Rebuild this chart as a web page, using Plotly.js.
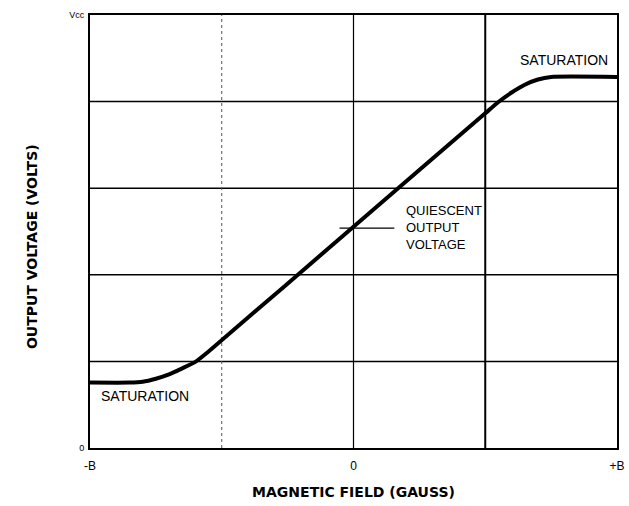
<!DOCTYPE html>
<html><head><meta charset="utf-8">
<script src="https://cdn.plot.ly/plotly-3.0.1.min.js"></script>
<style>html,body{margin:0;padding:0;background:#fff;}#chart{width:629px;height:506px;}</style>
</head><body><div id="chart"></div>
<script>
// Data (normalised: x in units of B, y in units of Vcc)
const fieldX = [-1.0, -0.85, -0.80, -0.75, -0.70, -0.65, -0.60, -0.55, 0.0, 0.50, 0.55, 0.60, 0.65, 0.70, 0.75, 1.0];
const outputY = [0.151, 0.151, 0.153, 0.160, 0.170, 0.184, 0.199, 0.223, 0.511, 0.773, 0.799, 0.821, 0.839, 0.851, 0.857, 0.857];
const xTickVals = [-1, 0, 1];
const xTickText = ['-B', '0', '+B'];
const yTickVals = [0, 1];
const yTickText = ['0', 'Vcc'];
const hGrid = [0.2, 0.4, 0.6, 0.8];
const vGridDotted = [-0.5];
const vGridSolid = [0, 0.5];
const quiescentY = 0.508;
const quiescentX = [-0.053, 0.155];

const shapes = [];
hGrid.forEach(v => shapes.push({type:'line', xref:'paper', x0:0, x1:1, yref:'y', y0:v, y1:v, line:{color:'#000', width:1.5}, layer:'below'}));
vGridDotted.forEach(v => shapes.push({type:'line', yref:'paper', y0:0, y1:1, xref:'x', x0:v, x1:v, line:{color:'#555', width:1, dash:'dot'}, layer:'below'}));
vGridSolid.forEach((v,i) => shapes.push({type:'line', yref:'paper', y0:0, y1:1, xref:'x', x0:v, x1:v, line:{color:'#000', width: i===0 ? 1.2 : 2}, layer:'below'}));
shapes.push({type:'line', xref:'x', yref:'y', x0:quiescentX[0], x1:quiescentX[1], y0:quiescentY, y1:quiescentY, line:{color:'#000', width:1.2}});

const trace = {x: fieldX, y: outputY, type:'scatter', mode:'lines', line:{color:'#000', width:4, shape:'spline', smoothing:0.5}, hoverinfo:'none'};

const fam = 'Liberation Sans, Arial, sans-serif';
const titleFam = 'DejaVu Sans, sans-serif';
const layout = {
  width:629, height:506,
  margin:{l:90, r:12, t:15, b:58},
  paper_bgcolor:'#fff', plot_bgcolor:'#fff',
  showlegend:false,
  font:{size:11, family:fam, color:'#000'},
  xaxis:{range:[-1,1], tickvals:xTickVals, ticktext:xTickText, showgrid:false, zeroline:false,
    showline:true, mirror:true, linecolor:'#000', linewidth:2, ticks:'', ticklen:0, ticklabelstandoff:6,
    tickfont:{size:12, family:fam, color:'#000'},
    title:{text:'<b>MAGNETIC FIELD (GAUSS)</b>', font:{size:14, family:titleFam, color:'#000'}, standoff:15}},
  yaxis:{range:[0,1], tickvals:yTickVals, ticktext:yTickText, showgrid:false, zeroline:false,
    showline:true, mirror:true, linecolor:'#000', linewidth:2, ticks:'', ticklen:0, ticklabelstandoff:2,
    tickfont:{size:9, family:fam, color:'#000'}},
  shapes: shapes,
  annotations:[
    {x:-0.129, y:0.464, xref:'paper', yref:'paper', text:'<b>OUTPUT VOLTAGE (VOLTS)</b>', textangle:-90, showarrow:false, font:{size:14, family:titleFam, color:'#000'}},
    {x:0.8, y:0.895, xref:'x', yref:'y', text:'SATURATION', showarrow:false, font:{size:14, family:fam, color:'#000'}},
    {x:-0.79, y:0.12, xref:'x', yref:'y', text:'SATURATION', showarrow:false, font:{size:14, family:fam, color:'#000'}},
    {x:0.19, y:0.51, xref:'x', yref:'y', xanchor:'left', align:'left', text:'QUIESCENT<br>OUTPUT<br>VOLTAGE', showarrow:false, font:{size:13, family:fam, color:'#000'}}
  ]
};
Plotly.newPlot('chart', [trace], layout, {displayModeBar:false, staticPlot:true});
</script></body></html>
